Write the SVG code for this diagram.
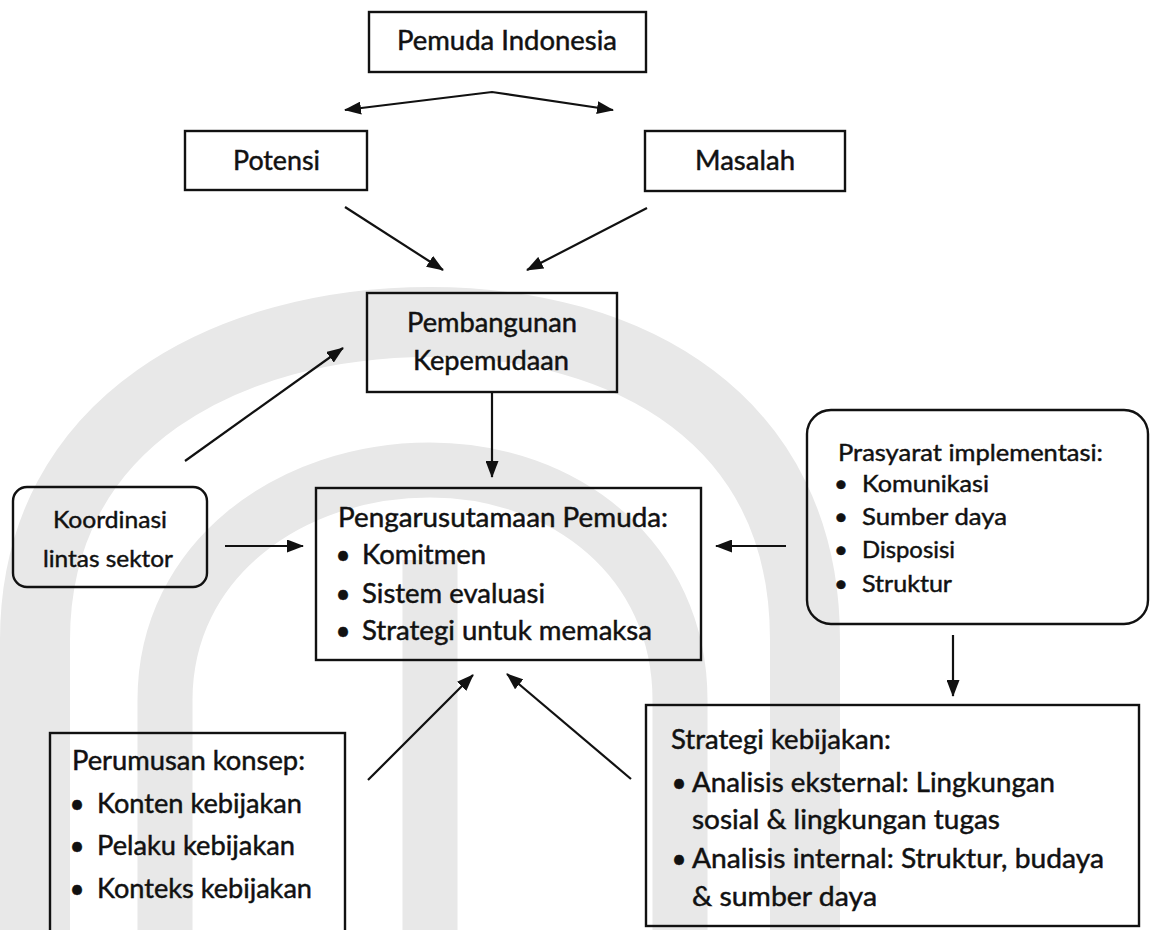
<svg xmlns="http://www.w3.org/2000/svg" width="1154" height="930" viewBox="0 0 1154 930">
  <style>
    .box { fill: none; stroke: #111; stroke-width: 2.4; }
    .lbl { font-family: Lato, "Open Sans", "Liberation Sans", sans-serif; font-size: 26px; fill: #111; stroke: #111; stroke-width: 0.45; }
    .sm { font-size: 24px; }
    .edge { fill: none; stroke: #111; stroke-width: 2.2; }
    .wm { fill: none; stroke: #e8e8e8; }
  </style>
  <defs>
    <marker id="arrow" viewBox="0 0 17 13" refX="16" refY="6.5" markerWidth="17" markerHeight="13" markerUnits="userSpaceOnUse" orient="auto-start-reverse">
      <path d="M0,0 L17,6.5 L0,13 z" fill="#111"/>
    </marker>
  </defs>

  <rect width="1154" height="930" fill="#fff"/>

  <!-- faint emblem in the background -->
  <g id="watermark">
    <path class="wm" stroke-width="70" d="M35,930 L35,640 C35,420 230,322 430,322 C630,322 805,420 805,640 L805,930"/>
    <path class="wm" stroke-width="55" d="M165,930 L165,700 C165,560 290,470 430,470 C565,470 680,560 680,700 L680,930"/>
    <path class="wm" stroke-width="55" d="M430,560 L430,930"/>
  </g>

  <g id="edges">
    <polyline class="edge" points="345,110 492,92 613,110" marker-start="url(#arrow)" marker-end="url(#arrow)"/>
    <line class="edge" x1="345" y1="207" x2="443" y2="270" marker-end="url(#arrow)"/>
    <line class="edge" x1="647" y1="208" x2="527" y2="270" marker-end="url(#arrow)"/>
    <line class="edge" x1="185" y1="461" x2="343" y2="348" marker-end="url(#arrow)"/>
    <line class="edge" x1="492" y1="392" x2="492" y2="477" marker-end="url(#arrow)"/>
    <line class="edge" x1="225" y1="546" x2="303" y2="546" marker-end="url(#arrow)"/>
    <line class="edge" x1="786" y1="546" x2="716" y2="546" marker-end="url(#arrow)"/>
    <line class="edge" x1="953" y1="635" x2="953" y2="696" marker-end="url(#arrow)"/>
    <line class="edge" x1="368" y1="780" x2="473" y2="675" marker-end="url(#arrow)"/>
    <line class="edge" x1="631" y1="779" x2="507" y2="674" marker-end="url(#arrow)"/>
  </g>

  <g id="pemuda-indonesia">
    <rect class="box" x="369" y="12" width="277" height="60"/>
    <text class="lbl" x="397" y="50" textLength="220" lengthAdjust="spacingAndGlyphs">Pemuda Indonesia</text>
  </g>

  <g id="potensi">
    <rect class="box" x="185" y="131" width="182" height="59"/>
    <text class="lbl" x="233" y="170" textLength="87" lengthAdjust="spacingAndGlyphs">Potensi</text>
  </g>

  <g id="masalah">
    <rect class="box" x="645" y="131" width="200" height="60"/>
    <text class="lbl" x="695" y="170" textLength="100" lengthAdjust="spacingAndGlyphs">Masalah</text>
  </g>

  <g id="pembangunan-kepemudaan">
    <rect class="box" x="367" y="293" width="250" height="99"/>
    <text class="lbl" x="407" y="332" textLength="170" lengthAdjust="spacingAndGlyphs">Pembangunan</text>
    <text class="lbl" x="413" y="370" textLength="156" lengthAdjust="spacingAndGlyphs">Kepemudaan</text>
  </g>

  <g id="koordinasi">
    <rect class="box" x="13" y="487" width="194" height="100" rx="14"/>
    <text class="lbl sm" x="53" y="528" textLength="114" lengthAdjust="spacingAndGlyphs">Koordinasi</text>
    <text class="lbl sm" x="43" y="567" textLength="130" lengthAdjust="spacingAndGlyphs">lintas sektor</text>
  </g>

  <g id="pengarusutamaan">
    <rect class="box" x="316" y="488" width="385" height="172"/>
    <text class="lbl" x="338" y="527" textLength="330" lengthAdjust="spacingAndGlyphs">Pengarusutamaan Pemuda:</text>
    <text class="lbl" x="343" y="564" text-anchor="middle">•</text>
    <text class="lbl" x="362" y="564" textLength="124" lengthAdjust="spacingAndGlyphs">Komitmen</text>
    <text class="lbl" x="343" y="603" text-anchor="middle">•</text>
    <text class="lbl" x="362" y="603" textLength="183" lengthAdjust="spacingAndGlyphs">Sistem evaluasi</text>
    <text class="lbl" x="343" y="640" text-anchor="middle">•</text>
    <text class="lbl" x="362" y="640" textLength="290" lengthAdjust="spacingAndGlyphs">Strategi untuk memaksa</text>
  </g>

  <g id="prasyarat">
    <rect class="box" x="807" y="410" width="341" height="214" rx="24"/>
    <text class="lbl sm" x="838" y="461" textLength="265" lengthAdjust="spacingAndGlyphs">Prasyarat implementasi:</text>
    <text class="lbl sm" x="841" y="492" text-anchor="middle">•</text>
    <text class="lbl sm" x="862" y="492" textLength="127" lengthAdjust="spacingAndGlyphs">Komunikasi</text>
    <text class="lbl sm" x="841" y="525" text-anchor="middle">•</text>
    <text class="lbl sm" x="862" y="525" textLength="145" lengthAdjust="spacingAndGlyphs">Sumber daya</text>
    <text class="lbl sm" x="841" y="558" text-anchor="middle">•</text>
    <text class="lbl sm" x="862" y="558" textLength="93" lengthAdjust="spacingAndGlyphs">Disposisi</text>
    <text class="lbl sm" x="841" y="592" text-anchor="middle">•</text>
    <text class="lbl sm" x="862" y="592" textLength="90" lengthAdjust="spacingAndGlyphs">Struktur</text>
  </g>

  <g id="perumusan-konsep">
    <rect class="box" x="50" y="733" width="295" height="215"/>
    <text class="lbl" x="72" y="770" textLength="233" lengthAdjust="spacingAndGlyphs">Perumusan konsep:</text>
    <text class="lbl" x="77" y="813" text-anchor="middle">•</text>
    <text class="lbl" x="97" y="813" textLength="205" lengthAdjust="spacingAndGlyphs">Konten kebijakan</text>
    <text class="lbl" x="77" y="855" text-anchor="middle">•</text>
    <text class="lbl" x="97" y="855" textLength="198" lengthAdjust="spacingAndGlyphs">Pelaku kebijakan</text>
    <text class="lbl" x="77" y="898" text-anchor="middle">•</text>
    <text class="lbl" x="97" y="898" textLength="215" lengthAdjust="spacingAndGlyphs">Konteks kebijakan</text>
  </g>

  <g id="strategi-kebijakan">
    <rect class="box" x="646" y="705" width="493" height="221"/>
    <text class="lbl" x="671" y="749" textLength="220" lengthAdjust="spacingAndGlyphs">Strategi kebijakan:</text>
    <text class="lbl" x="679" y="792" text-anchor="middle">•</text>
    <text class="lbl" x="692" y="792" textLength="363" lengthAdjust="spacingAndGlyphs">Analisis eksternal: Lingkungan</text>
    <text class="lbl" x="692" y="829" textLength="308" lengthAdjust="spacingAndGlyphs">sosial &amp; lingkungan tugas</text>
    <text class="lbl" x="679" y="868" text-anchor="middle">•</text>
    <text class="lbl" x="692" y="868" textLength="412" lengthAdjust="spacingAndGlyphs">Analisis internal: Struktur, budaya</text>
    <text class="lbl" x="692" y="906" textLength="185" lengthAdjust="spacingAndGlyphs">&amp; sumber daya</text>
  </g>
</svg>
